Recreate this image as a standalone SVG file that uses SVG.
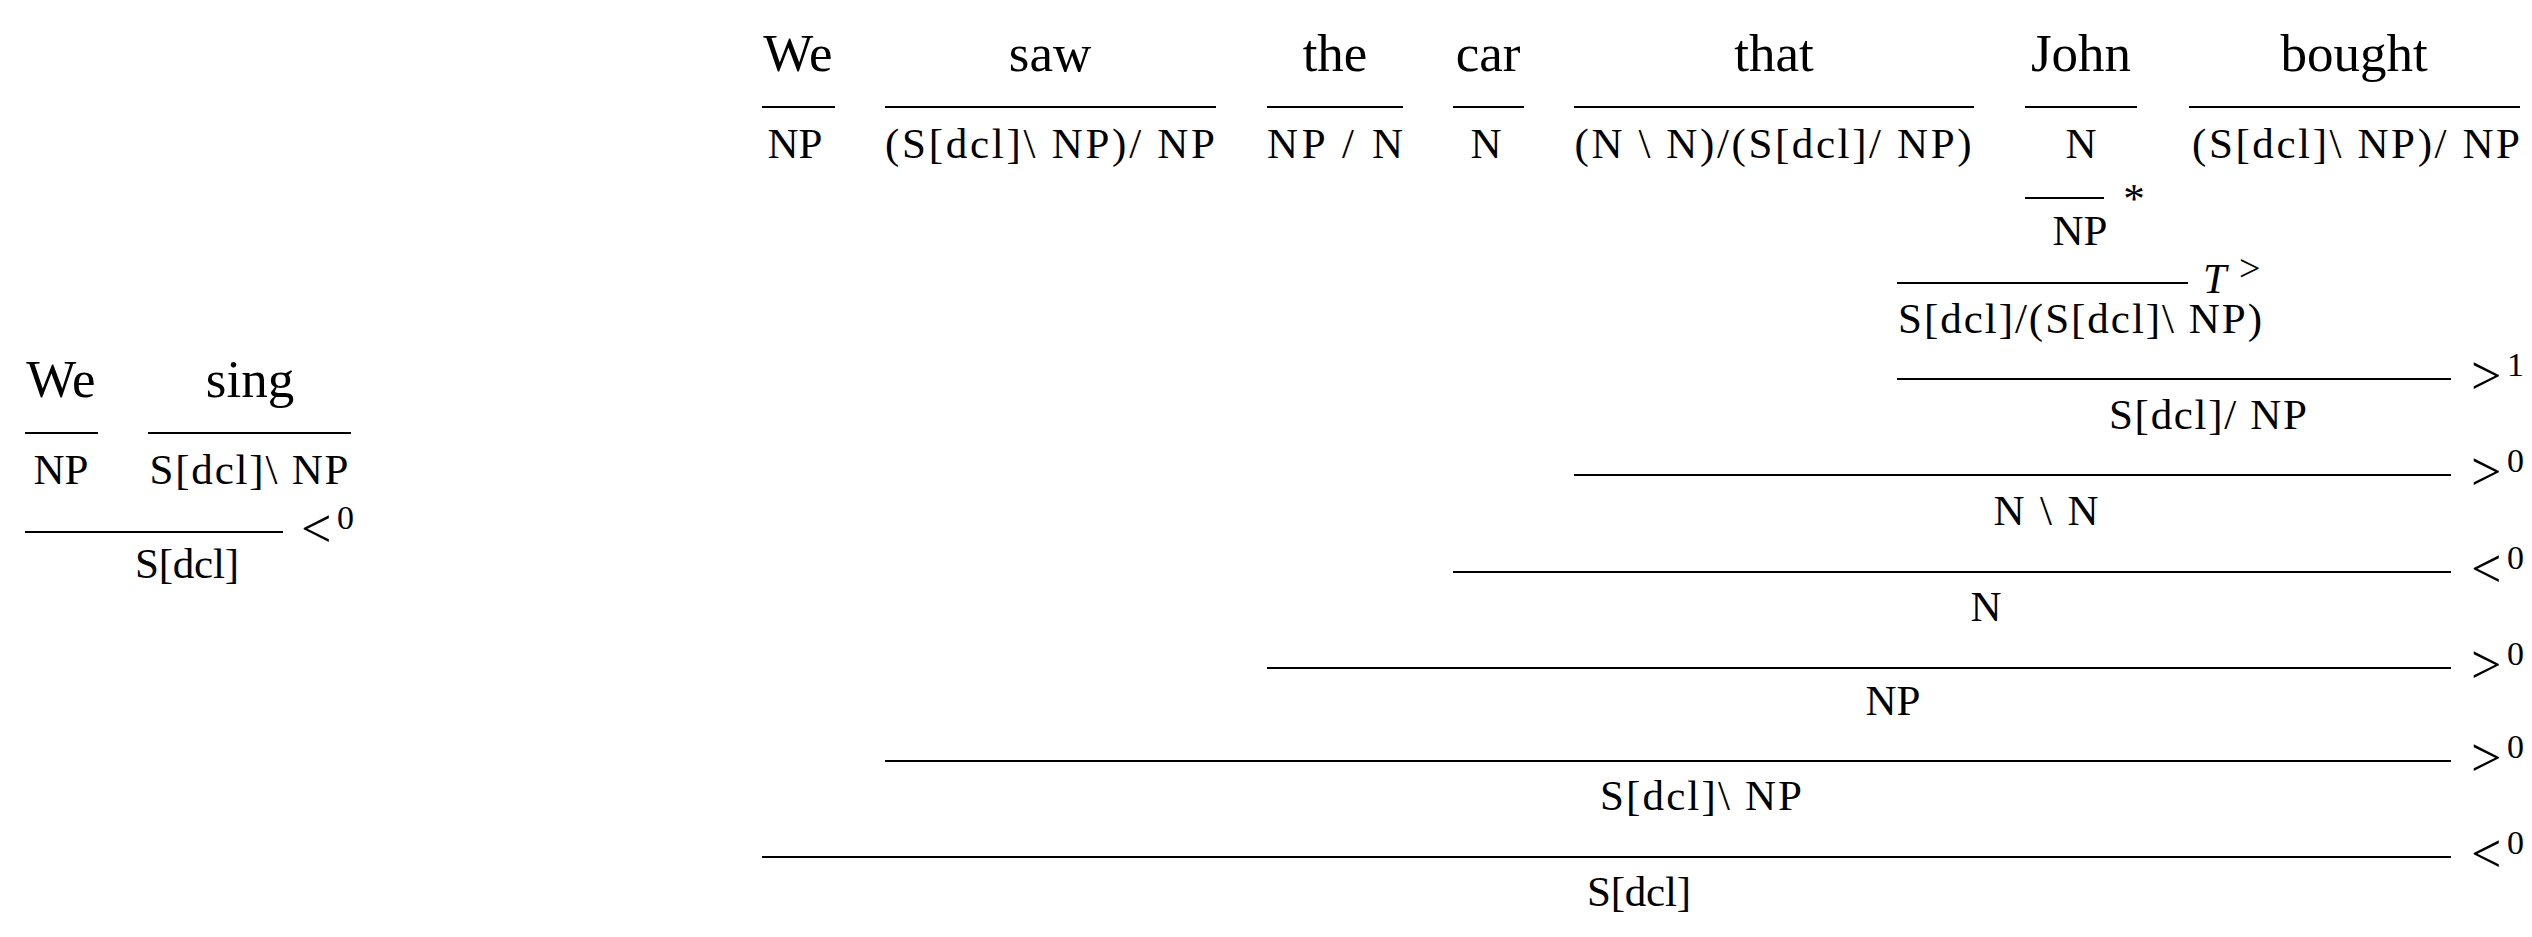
<svg xmlns="http://www.w3.org/2000/svg" width="2532" height="937" viewBox="0 0 2532 937">
<style>
  .w { font-family: "Liberation Serif", "Times New Roman", serif; font-size: 53px; fill: #000; text-anchor: middle; }
  .c { font-family: "Liberation Serif", "Times New Roman", serif; font-size: 43px; fill: #000; text-anchor: middle; }
  .rel { font-family: "Liberation Serif", "Times New Roman", serif; font-size: 54px; fill: #000; }
  .sup { font-family: "Liberation Serif", "Times New Roman", serif; font-size: 34px; fill: #000; }
  .it { font-family: "Liberation Serif", "Times New Roman", serif; font-size: 42px; font-style: italic; fill: #000; }
  .bar { stroke: #000; stroke-width: 2; fill: none; }
</style>
<rect width="2532" height="937" fill="#fff"/>

<!-- Left derivation: We sing -->
<g id="L-we">
  <text class="w" x="61" y="397">We</text>
  <text class="c" x="61" y="484">NP</text>
</g>
<g id="L-sing">
  <text class="w" x="250" y="397">sing</text>
  <text class="c" x="249" y="484" textLength="199" lengthAdjust="spacing" xml:space="preserve">S[dcl]\ NP</text>
</g>
<g id="L-result">
  <text class="c" x="187" y="578" textLength="104" lengthAdjust="spacing">S[dcl]</text>
</g>

<!-- Right derivation: lexical nodes -->
<g id="R-we">
  <text class="w" x="798" y="71">We</text>
  <text class="c" x="795" y="158">NP</text>
</g>
<g id="R-saw">
  <text class="w" x="1050" y="71">saw</text>
  <text class="c" x="1050" y="158" textLength="330" lengthAdjust="spacing" xml:space="preserve">(S[dcl]\ NP)/ NP</text>
</g>
<g id="R-the">
  <text class="w" x="1335" y="71">the</text>
  <text class="c" x="1335" y="158" textLength="136" lengthAdjust="spacing" xml:space="preserve">NP / N</text>
</g>
<g id="R-car">
  <text class="w" x="1488" y="71">car</text>
  <text class="c" x="1486" y="158">N</text>
</g>
<g id="R-that">
  <text class="w" x="1774" y="71">that</text>
  <text class="c" x="1773" y="158" textLength="397" lengthAdjust="spacing" xml:space="preserve">(N \ N)/(S[dcl]/ NP)</text>
</g>
<g id="R-john">
  <text class="w" x="2081" y="71">John</text>
  <text class="c" x="2081" y="158">N</text>
</g>
<g id="R-bought">
  <text class="w" x="2354" y="71">bought</text>
  <text class="c" x="2356" y="158" textLength="328" lengthAdjust="spacing" xml:space="preserve">(S[dcl]\ NP)/ NP</text>
</g>

<!-- Right derivation: derived nodes -->
<g id="R-john-np">
  <text class="c" x="2080" y="245">NP</text>
</g>
<g id="R-john-tr">
  <text class="c" x="2080" y="333" textLength="364" lengthAdjust="spacing" xml:space="preserve">S[dcl]/(S[dcl]\ NP)</text>
</g>
<g id="R-john-bought">
  <text class="c" x="2208" y="429" textLength="198" lengthAdjust="spacing" xml:space="preserve">S[dcl]/ NP</text>
</g>
<g id="R-rel">
  <text class="c" x="2046" y="525" textLength="105" lengthAdjust="spacing" xml:space="preserve">N \ N</text>
</g>
<g id="R-noun">
  <text class="c" x="1986" y="621">N</text>
</g>
<g id="R-np">
  <text class="c" x="1893" y="715">NP</text>
</g>
<g id="R-vp">
  <text class="c" x="1701" y="810" textLength="202" lengthAdjust="spacing" xml:space="preserve">S[dcl]\ NP</text>
</g>
<g id="R-s">
  <text class="c" x="1639" y="906" textLength="104" lengthAdjust="spacing">S[dcl]</text>
</g>

<!-- Connectors: derivation bars and rule labels -->
<g id="connectors">
  <!-- left derivation -->
  <line class="bar" x1="25" y1="433" x2="98" y2="433"/>
  <line class="bar" x1="148" y1="433" x2="351" y2="433"/>
  <line class="bar" x1="25" y1="532" x2="283" y2="532"/>
  <text class="rel" x="301" y="547">&lt;</text>
  <text class="sup" x="337" y="529">0</text>

  <!-- right derivation lexical bars -->
  <line class="bar" x1="762" y1="107" x2="835" y2="107"/>
  <line class="bar" x1="885" y1="107" x2="1216" y2="107"/>
  <line class="bar" x1="1267" y1="107" x2="1403" y2="107"/>
  <line class="bar" x1="1453" y1="107" x2="1524" y2="107"/>
  <line class="bar" x1="1574" y1="107" x2="1974" y2="107"/>
  <line class="bar" x1="2025" y1="107" x2="2137" y2="107"/>
  <line class="bar" x1="2189" y1="107" x2="2520" y2="107"/>

  <!-- unary * -->
  <line class="bar" x1="2025" y1="198" x2="2104" y2="198"/>
  <text class="c" x="2134" y="213">*</text>

  <!-- type raising -->
  <line class="bar" x1="1897" y1="283" x2="2188" y2="283"/>
  <text class="it" x="2203" y="293">T</text>
  <text class="sup" x="2239" y="281" style="font-size:38px">&gt;</text>

  <!-- combinations -->
  <line class="bar" x1="1897" y1="379" x2="2451" y2="379"/>
  <text class="rel" x="2471" y="394">&gt;</text>
  <text class="sup" x="2507" y="376">1</text>

  <line class="bar" x1="1574" y1="475" x2="2451" y2="475"/>
  <text class="rel" x="2471" y="490">&gt;</text>
  <text class="sup" x="2507" y="472">0</text>

  <line class="bar" x1="1453" y1="572" x2="2451" y2="572"/>
  <text class="rel" x="2471" y="587">&lt;</text>
  <text class="sup" x="2507" y="569">0</text>

  <line class="bar" x1="1267" y1="668" x2="2451" y2="668"/>
  <text class="rel" x="2471" y="683">&gt;</text>
  <text class="sup" x="2507" y="665">0</text>

  <line class="bar" x1="885" y1="761" x2="2451" y2="761"/>
  <text class="rel" x="2471" y="776">&gt;</text>
  <text class="sup" x="2507" y="758">0</text>

  <line class="bar" x1="762" y1="857" x2="2451" y2="857"/>
  <text class="rel" x="2471" y="872">&lt;</text>
  <text class="sup" x="2507" y="854">0</text>
</g>
</svg>
